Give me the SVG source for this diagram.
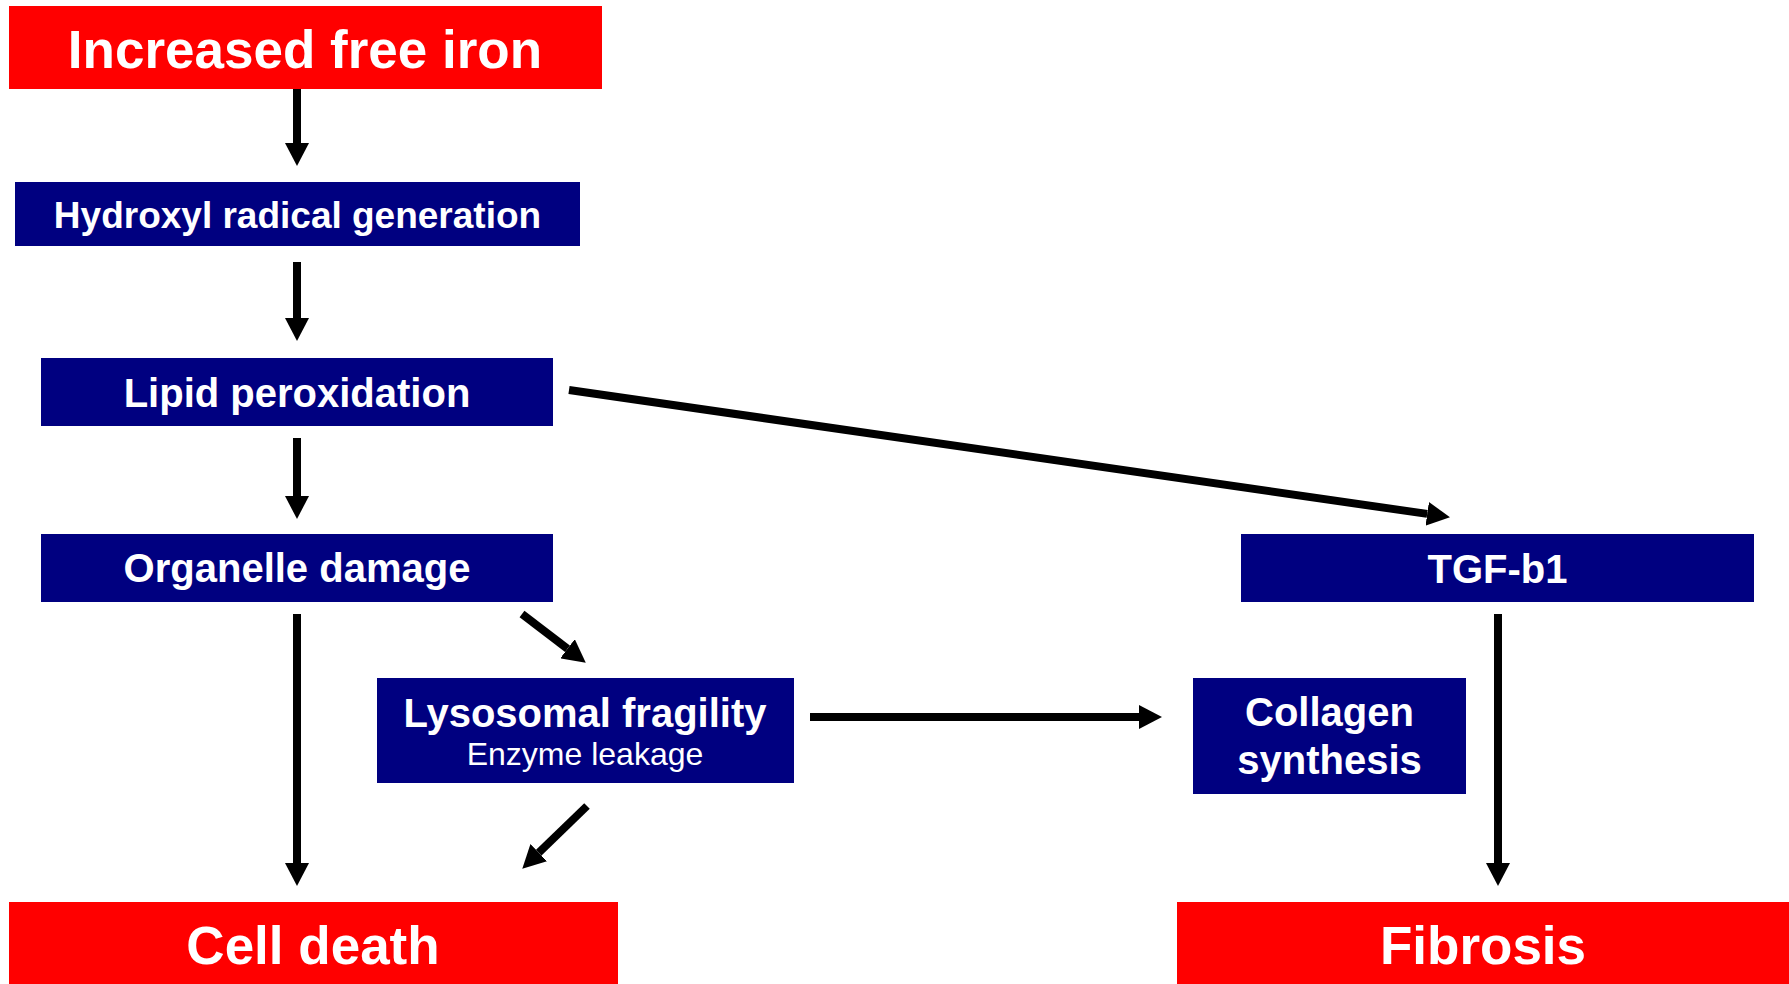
<svg xmlns="http://www.w3.org/2000/svg" width="1789" height="984" viewBox="0 0 1789 984">
<style>
.red{fill:#FF0000}
.blue{fill:#000080}
.t{fill:#FFFFFF;font-family:"Liberation Sans",Arial,sans-serif;font-weight:bold;text-anchor:middle}
.big{font-size:53px}
.mid{font-size:40px}
.small{font-size:32px;font-weight:normal}
.c{stroke:#000000;stroke-width:8;fill:none;marker-end:url(#ah)}
</style>
<defs>
<marker id="ah" markerUnits="userSpaceOnUse" viewBox="0 0 23 24" markerWidth="23" markerHeight="24" refX="0" refY="12" orient="auto">
<path d="M0,0 L23,12 L0,24 Z" fill="#000000"/>
</marker>
</defs>
<rect width="1789" height="984" fill="#FFFFFF"/>
<g id="connectors">
<line class="c" x1="297" y1="86" x2="297" y2="143"/>
<line class="c" x1="297" y1="262" x2="297" y2="318"/>
<line class="c" x1="297" y1="438" x2="297" y2="496"/>
<line class="c" x1="297" y1="614" x2="297" y2="863"/>
<line class="c" x1="1498" y1="614" x2="1498" y2="863"/>
<line class="c" x1="569" y1="390" x2="1427.2" y2="513.9"/>
<line class="c" x1="522" y1="614" x2="567.5" y2="648.7"/>
<line class="c" x1="587" y1="806" x2="538.8" y2="852.7"/>
<line class="c" x1="810" y1="717" x2="1139" y2="717"/>
</g>
<g id="increased-free-iron">
<rect class="red" x="9" y="6" width="593" height="83"/>
<text class="t big" x="305" y="68">Increased free iron</text>
</g>
<g id="hydroxyl-radical-generation">
<rect class="blue" x="15" y="182" width="565" height="64"/>
<text class="t" style="font-size:37px" x="297.5" y="228">Hydroxyl radical generation</text>
</g>
<g id="lipid-peroxidation">
<rect class="blue" x="41" y="358" width="512" height="68"/>
<text class="t mid" x="297" y="407">Lipid peroxidation</text>
</g>
<g id="organelle-damage">
<rect class="blue" x="41" y="534" width="512" height="68"/>
<text class="t mid" x="297" y="582">Organelle damage</text>
</g>
<g id="lysosomal-fragility">
<rect class="blue" x="377" y="678" width="417" height="105"/>
<text class="t mid" x="585" y="727">Lysosomal fragility</text>
<text class="t small" x="585" y="765">Enzyme leakage</text>
</g>
<g id="tgf-b1">
<rect class="blue" x="1241" y="534" width="513" height="68"/>
<text class="t mid" x="1497.5" y="583">TGF-b1</text>
</g>
<g id="collagen-synthesis">
<rect class="blue" x="1193" y="678" width="273" height="116"/>
<text class="t mid" x="1329.5" y="726">Collagen</text>
<text class="t mid" x="1329.5" y="774">synthesis</text>
</g>
<g id="cell-death">
<rect class="red" x="9" y="902" width="609" height="82"/>
<text class="t big" x="313" y="964">Cell death</text>
</g>
<g id="fibrosis">
<rect class="red" x="1177" y="902" width="612" height="82"/>
<text class="t big" x="1483" y="964">Fibrosis</text>
</g>
</svg>
